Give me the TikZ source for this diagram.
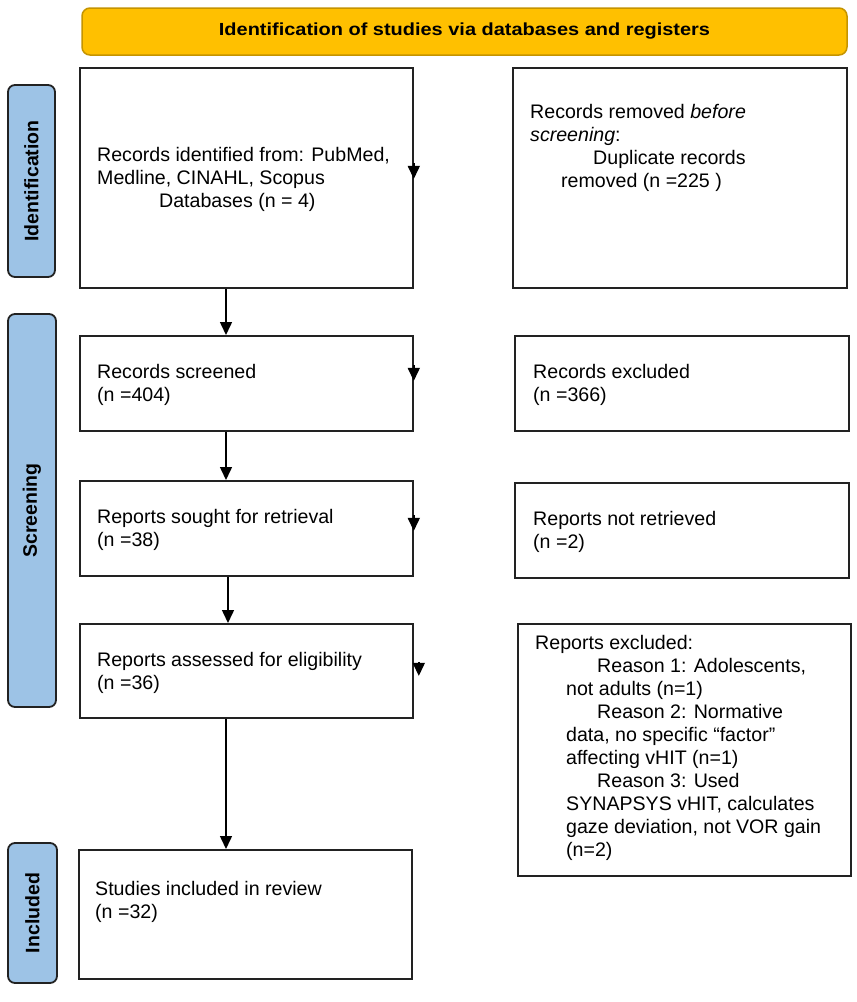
\documentclass[tikz,border=0pt]{standalone}
\usepackage{fontspec}
\setmainfont{Liberation Sans}
\usetikzlibrary{arrows.meta}
\definecolor{gold}{HTML}{FFC000}
\definecolor{goldline}{HTML}{C59400}
\definecolor{lblue}{HTML}{9DC3E6}
\definecolor{edge}{HTML}{222222}
\begin{document}
\begin{tikzpicture}[x=1pt,y=-1pt,
  box/.style={draw=edge,line width=1.8pt,fill=white,anchor=north west,inner sep=0pt},
  side/.style={draw=edge,line width=1.8pt,fill=lblue,rounded corners=7pt,rotate=90,
    inner sep=0pt,font=\fontsize{19.5}{22}\selectfont\bfseries},
  txt/.style={anchor=base west,align=left,inner sep=0pt,font=\fontsize{19.6}{22.9}\selectfont},
  flow/.style={draw=black,line width=1.5pt,-{Triangle[width=12pt,length=13pt]}},
  tipmark/.style={draw=black,line width=1.5pt,-{Triangle[width=12pt,length=13pt]}}]
\useasboundingbox (0,0) rectangle (857,1002);

% header
\node[draw=goldline,fill=gold,line width=1.5pt,rounded corners=8pt,
  minimum width=765pt,minimum height=47pt,inner sep=0pt] (hdr) at (464.5,31.5)
  {\fontsize{17.5}{20}\selectfont\bfseries\scalebox{1.14}[1]{Identification of studies via databases and registers}};

% side labels
\node[side,minimum width=192pt,minimum height=47pt] (lid) at (31.5,181) {Identification};
\node[side,minimum width=393pt,minimum height=48pt] (lsc) at (32,510.5) {Screening};
\node[side,minimum width=140pt,minimum height=49pt] (lin) at (32.5,913) {Included};

% left boxes
\node[box,minimum width=333pt,minimum height=220pt] (id) at (79,67) {};
\node[box,minimum width=333pt,minimum height=95pt] (scr) at (79,335) {};
\node[box,minimum width=333pt,minimum height=95pt] (sou) at (79,480) {};
\node[box,minimum width=333pt,minimum height=94pt] (ass) at (79,623) {};
\node[box,minimum width=333pt,minimum height=129pt] (inc) at (78,849) {};

% right boxes
\node[box,minimum width=334pt,minimum height=220pt] (rid) at (512,67) {};
\node[box,minimum width=334pt,minimum height=95pt] (rex) at (514,335) {};
\node[box,minimum width=334pt,minimum height=95pt] (rnr) at (514,482) {};
\node[box,minimum width=333pt,minimum height=252pt] (rre) at (517,623) {};

% texts (node base = baseline of the last line)
\node[txt] (tid) at (97,207.5) {Records identified from: PubMed,\\Medline, CINAHL, Scopus\\\hspace*{62pt}Databases (n = 4)};
\node[txt] (tscr) at (97,401) {Records screened\\(n =404)};
\node[txt] (tsou) at (97,546) {Reports sought for retrieval\\(n =38)};
\node[txt] (tass) at (97,689) {Reports assessed for eligibility\\(n =36)};
\node[txt] (tinc) at (95,918) {Studies included in review\\(n =32)};

\node[txt] (trid) at (530,187) {Records removed \textit{before}\\\textit{screening}:\\\hspace*{63pt}Duplicate records\\\hspace*{31pt}removed (n =225 )};
\node[txt] (trex) at (533,401) {Records excluded\\(n =366)};
\node[txt] (trnr) at (533,548) {Reports not retrieved\\(n =2)};
\node[txt] (trre) at (535,856) {Reports excluded:\\
\hspace*{62pt}Reason 1: Adolescents,\\
\hspace*{31pt}not adults (n=1)\\
\hspace*{62pt}Reason 2: Normative\\
\hspace*{31pt}data, no specific “factor”\\
\hspace*{31pt}affecting vHIT (n=1)\\
\hspace*{62pt}Reason 3: Used\\
\hspace*{31pt}SYNAPSYS vHIT, calculates\\
\hspace*{31pt}gaze deviation, not VOR gain\\
\hspace*{31pt}(n=2)};

% main flow
\coordinate (c1) at (226,0);
\coordinate (c2) at (228,0);
\draw[flow] (id.south -| c1) -- (scr.north -| c1);
\draw[flow] (scr.south -| c1) -- (sou.north -| c1);
\draw[flow] (sou.south -| c2) -- (ass.north -| c2);
\draw[flow] (ass.south -| c1) -- (inc.north -| c1);

% arrowheads left on the right edges
\draw[tipmark] ([yshift=15pt]id.east) -- ([yshift=-1pt]id.east);
\draw[tipmark] ([yshift=18pt]scr.east) -- ([yshift=2.5pt]scr.east);
\draw[tipmark] ([yshift=13pt]sou.east) -- ([yshift=-2.5pt]sou.east);
\draw[tipmark] ([xshift=5pt,yshift=9pt]ass.east) -- ([xshift=5pt,yshift=-5pt]ass.east);
\end{tikzpicture}
\end{document}
